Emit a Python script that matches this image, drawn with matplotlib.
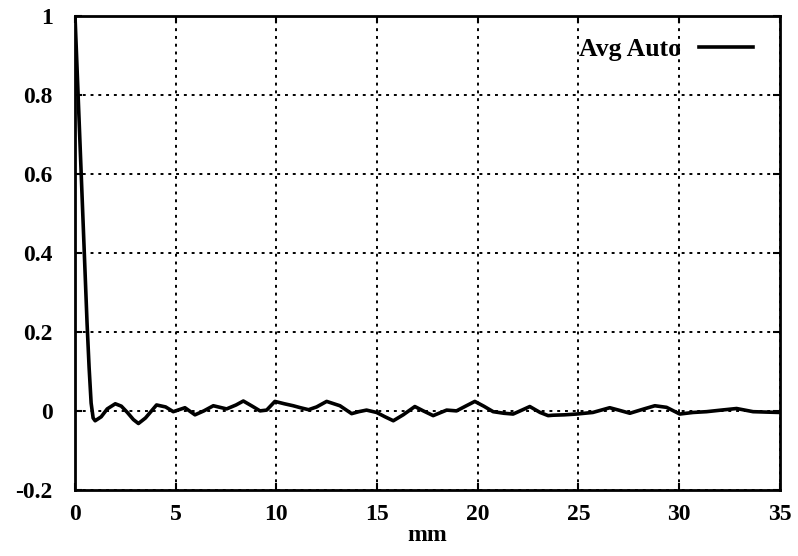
import matplotlib.pyplot as plt

plt.rcParams["font.family"] = ["Liberation Serif", "DejaVu Serif"]
plt.rcParams["font.weight"] = "bold"

# averaged autocorrelation
dist_mm = [0.0, 0.1, 0.2, 0.3, 0.4, 0.5, 0.6, 0.7, 0.8, 0.9, 1.0,
           1.3, 1.6, 2.0, 2.3, 2.6, 2.9, 3.15, 3.5, 4.05, 4.5, 4.88, 5.46,
           5.96, 6.4, 6.87, 7.53, 8.0, 8.36, 8.8, 9.19, 9.52, 9.93, 10.4,
           10.84, 11.2, 11.6, 12.0, 12.5, 13.16, 13.74, 14.1, 14.48, 14.98,
           15.4, 15.81, 16.3, 16.88, 17.3, 17.79, 18.46, 18.95, 19.4, 19.86,
           20.3, 20.77, 21.3, 21.76, 22.2, 22.59, 23.1, 23.5, 23.74, 24.3,
           24.91, 25.72, 26.56, 27.0, 27.56, 28.2, 28.8, 29.38, 30.04, 30.7,
           31.37, 32.1, 32.86, 33.68, 34.3, 35.0]
auto_corr = [1.0, 0.87, 0.74, 0.61, 0.48, 0.35, 0.22, 0.11, 0.02, -0.018, -0.025,
             -0.015, 0.005, 0.018, 0.012, -0.004, -0.022, -0.032, -0.018, 0.015, 0.010, -0.002, 0.008,
             -0.010, 0.000, 0.013, 0.005, 0.015, 0.025, 0.012, 0.000, 0.002, 0.024, 0.018,
             0.013, 0.008, 0.003, 0.010, 0.024, 0.013, -0.007, -0.002, 0.002, -0.004,
             -0.015, -0.025, -0.010, 0.011, 0.000, -0.012, 0.002, 0.000, 0.012, 0.024,
             0.012, -0.002, -0.006, -0.008, 0.002, 0.011, -0.004, -0.012, -0.011, -0.010,
             -0.008, -0.004, 0.008, 0.002, -0.006, 0.004, 0.013, 0.009, -0.008, -0.004,
             -0.002, 0.002, 0.006, -0.002, -0.003, -0.004]

x_ticks = [0, 5, 10, 15, 20, 25, 30, 35]
y_ticks = [-0.2, 0, 0.2, 0.4, 0.6, 0.8, 1]
y_tick_labels = ["-0.2", "0", "0.2", "0.4", "0.6", "0.8", "1"]

fig = plt.figure(figsize=(7.98, 5.56), dpi=100)
ax = fig.add_axes([0.094, 0.119, 0.883, 0.852])

ax.plot(dist_mm, auto_corr, color="black", linewidth=2.6, label="Avg Auto")

ax.set_xlim(0, 35)
ax.set_ylim(-0.2, 1)
ax.set_xticks(x_ticks)
ax.set_xticklabels([str(t) for t in x_ticks])
ax.set_yticks(y_ticks)
ax.set_yticklabels(y_tick_labels)
ax.tick_params(axis="both", direction="in", length=5, width=1.5, labelsize=17,
               top=True, right=True)
ax.tick_params(axis="x", pad=10)
ax.tick_params(axis="y", pad=16)
ax.grid(True, linestyle=(0, (1.5, 2.5)), linewidth=1.4, color="black")
for sp in ax.spines.values():
    sp.set_linewidth(2.0)
    sp.set_color("black")

ax.set_xlabel("mm", fontsize=17, fontweight="bold", labelpad=0)

leg = ax.legend(loc="center right", bbox_to_anchor=(0.962, 0.930), frameon=False,
                markerfirst=False, fontsize=18.5, handlelength=2.1,
                borderaxespad=0, borderpad=0, handletextpad=0.7)

fig.savefig("out.png", dpi=100)
